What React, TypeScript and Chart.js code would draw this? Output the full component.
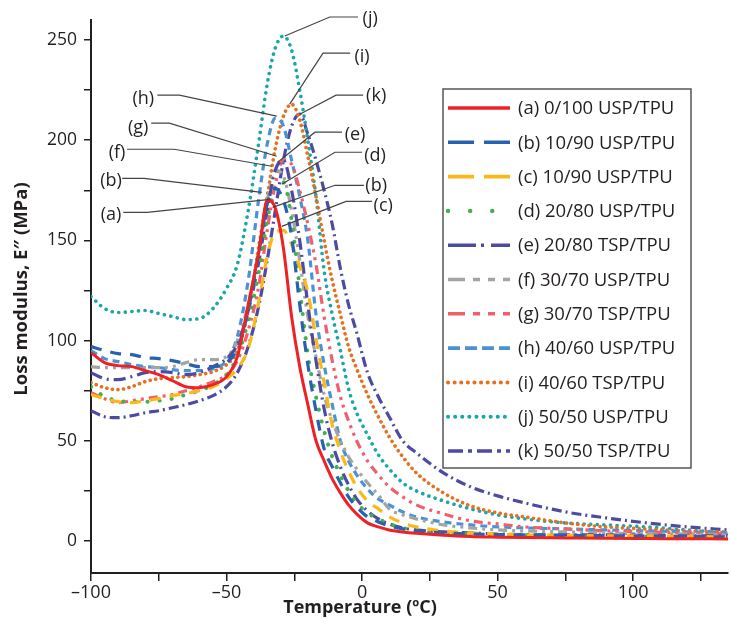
import React, { useEffect, useRef } from 'react';
import { Chart, registerables } from 'chart.js';
Chart.register(...registerables);

// Temperature grid (°C)
const temps = [-100, -95, -90, -85, -80, -75, -70, -65, -60, -55, -50, -46, -42, -38, -35, -32, -29, -26, -23, -20, -17, -14, -11, -8, -5, -2, 2, 6, 10, 15, 20, 30, 40, 50, 60, 75, 90, 105, 120, 135];

// Loss modulus E'' (MPa) for each blend
const serA = [94, 89, 87.5, 87, 85, 83, 80, 77, 76.5, 78, 82, 92, 118, 145, 170, 166, 146, 112, 87, 68, 50, 40, 31, 24, 18, 13.5, 9, 7, 5.5, 4.5, 3.8, 2.8, 2.2, 1.9, 1.7, 1.5, 1.3, 1.2, 1.1, 1];
const serB = [97, 95, 93.5, 93, 91.5, 91, 90, 88.5, 87, 87, 89, 96, 115, 145, 168, 176, 170, 152, 118, 88, 65, 46, 37, 29, 22, 17, 12, 9.5, 7.5, 6, 5, 4, 3.5, 3.2, 3, 2.8, 2.6, 2.4, 2.2, 2];
const serC = [73, 71, 69.5, 69, 70, 71, 72.5, 73.5, 75, 77, 81, 86, 96, 120, 142, 154, 155, 148, 137, 124, 101, 79, 58, 45, 35, 27, 20, 16, 12, 9, 7, 5, 4, 3.5, 3, 2.8, 2.5, 2.5, 2.3, 2];
const serD = [77, 72, 70, 69.5, 69.5, 70, 71, 73, 75, 78, 83, 92, 110, 135, 160, 176, 179, 160, 126, 93, 72, 55, 42, 33, 25, 19, 14, 11, 8.5, 6.5, 5, 4, 3.5, 3, 2.8, 2.5, 2.3, 2.2, 2, 2];
const serE = [84, 81, 80.5, 82, 84, 84.5, 84, 83, 84, 87, 91, 98, 115, 140, 165, 185, 190, 175, 150, 118, 90, 66, 49, 37, 28, 21, 15, 11, 8.5, 6.5, 5.5, 4.5, 4, 3.5, 3.2, 3, 3, 2.8, 2.5, 2.5];
const serF = [87, 86.5, 86.5, 86.5, 86.5, 86.5, 87, 89, 90.5, 90.5, 92, 100, 118, 145, 170, 185, 182, 165, 140, 112, 92, 73, 60, 50, 42, 36, 29, 23, 16, 13, 11, 8, 6.5, 5.5, 5, 4.5, 4, 3.5, 3.5, 3];
const serG = [74, 71, 69, 70, 71, 72, 73, 75, 77, 79.5, 83, 90, 105, 128, 155, 178, 190, 188, 175, 158, 138, 112, 90, 72, 60, 50, 40, 33, 27, 22, 18, 13.5, 10, 8.5, 7, 6, 5, 4.5, 4, 3.5];
const serH = [95, 91, 89.5, 88, 87, 86.5, 85.5, 85, 85, 86, 90, 102, 130, 172, 198, 211, 207, 190, 172, 150, 113, 88, 68, 50, 40, 33, 26, 21, 18, 14.5, 12, 9.5, 8, 7, 6.5, 6, 5.5, 5, 4.5, 4];
const serI = [79, 76.5, 75.5, 77, 79.5, 81, 81.5, 82, 83, 84.5, 88, 95, 115, 148, 172, 196, 212, 218, 210, 192, 172, 150, 130, 113, 97, 86, 73, 62, 52, 42, 34, 24, 17.5, 14, 12, 9, 7, 6, 5, 4.5];
const serJ = [122, 116, 114, 114.5, 115, 113.5, 112, 110.5, 111, 116, 126, 138, 165, 200, 228, 246, 252, 245, 225, 200, 172, 135, 113, 95, 76, 64, 53, 43, 36, 29, 25, 20, 16, 13, 11, 9, 8, 7, 5.5, 4];
const serK = [65, 62, 61.5, 62.5, 64, 65, 66.5, 68, 70, 72.5, 77, 84, 97, 118, 140, 165, 190, 207, 213, 203, 190, 175, 158, 136, 118, 104, 84, 72, 62, 50, 44, 34, 27, 22.5, 19, 14.5, 11.5, 9, 7, 5.5];

const seriesValues = [serA, serB, serC, serD, serE, serF, serG, serH, serI, serJ, serK];
const seriesLabels = [
  '(a) 0/100 USP/TPU',
  '(b) 10/90 USP/TPU',
  '(c) 10/90 USP/TPU',
  '(d) 20/80 USP/TPU',
  '(e) 20/80 TSP/TPU',
  '(f) 30/70 USP/TPU',
  '(g) 30/70 TSP/TPU',
  '(h) 40/60 USP/TPU',
  '(i) 40/60 TSP/TPU',
  '(j) 50/50 USP/TPU',
  '(k) 50/50 TSP/TPU',
];

const xTickValues = [-100, -75, -50, -25, 0, 25, 50, 75, 100, 125];
const yTickValues = [0, 25, 50, 75, 100, 125, 150, 175, 200, 225, 250];

const xTitle = 'Temperature (ºC)';
const yTitle = 'Loss modulus, E\u2033 (MPa)';

// Annotation callouts (data coordinates): label, text position, leader start, elbow, target
const calloutLabels = ['(j)', '(i)', '(k)', '(h)', '(g)', '(f)', '(b)', '(a)', '(e)', '(d)', '(b)', '(c)'];
const calloutText = [[3, 260.5], [0, 241.5], [5.2, 222], [-80.7, 220.5], [-82.6, 206], [-90.4, 193.5], [-92.6, 179.5], [-92.6, 162.5], [-2.6, 202.5], [4.8, 192], [5.2, 177], [7.8, 167]];
const calloutStart = [[-1.5, 261.5], [-4.4, 243.5], [0.4, 222.5], [-75.5, 222.5], [-77.8, 208.5], [-86.7, 195.5], [-88.5, 181], [-88.1, 164], [-7.4, 204], [0, 194], [0.7, 177.5], [3.7, 169.5]];
const calloutElbow = [[-11.9, 261.5], [-14.4, 243.5], [-9.6, 222.5], [-67.4, 222.5], [-71.1, 208.5], [-69.3, 195.5], [-80.4, 181], [-79.3, 164], [-17.4, 204], [-10, 194], [-10, 177.5], [-5.9, 169.5]];
const calloutTarget = [[-28.5, 252], [-26.7, 218], [-23, 213], [-31.5, 212], [-31.5, 192], [-33.3, 187], [-37, 174], [-34, 170.5], [-31.1, 189], [-29.6, 178], [-33, 166.5], [-29.6, 157]];

const FONT = '"Open Sans", "Noto Sans", sans-serif';
const INK = '#231f20';

const styles = [
  { color: '#ec2227', dash: [] as number[], legendDash: [] as number[], width: 3, cap: 'butt' },
  { color: '#2762b0', dash: [11, 9], legendDash: [26, 10], width: 3.2, cap: 'butt' },
  { color: '#fbb817', dash: [11, 9], legendDash: [26, 10], width: 3.2, cap: 'butt' },
  { color: '#40b14f', dash: [0.1, 12], legendDash: [0.1, 22], width: 4, cap: 'round' },
  { color: '#4c4aa2', dash: [12, 5, 2, 5], legendDash: [28, 5, 3, 7], width: 3.2, cap: 'butt' },
  { color: '#a4a4a4', dash: [9, 5, 3, 5, 3, 5], legendDash: [17, 8, 7, 8, 7, 8], width: 3.2, cap: 'butt' },
  { color: '#f05f6b', dash: [9, 5, 3, 5, 3, 5], legendDash: [17, 8, 7, 8, 7, 8], width: 3.2, cap: 'butt' },
  { color: '#4a92d6', dash: [7, 5], legendDash: [12, 5], width: 3.2, cap: 'butt' },
  { color: '#e5701f', dash: [0.1, 5.5], legendDash: [0.1, 6.5], width: 3.6, cap: 'round' },
  { color: '#19a7a9', dash: [0.1, 6.5], legendDash: [0.1, 7], width: 3.6, cap: 'round' },
  { color: '#4c4aa2', dash: [10, 4, 2, 4], legendDash: [15, 5, 4, 5], width: 3.2, cap: 'butt' },
];

const calloutPlugin = {
  id: 'callouts',
  afterDatasetsDraw(chart: any) {
    const { ctx } = chart;
    const xs = chart.scales.x;
    const ys = chart.scales.y;
    ctx.save();
    ctx.strokeStyle = '#444444';
    ctx.lineWidth = 1.2;
    ctx.setLineDash([]);
    for (let i = 0; i < calloutLabels.length; i++) {
      ctx.beginPath();
      ctx.moveTo(xs.getPixelForValue(calloutStart[i][0]), ys.getPixelForValue(calloutStart[i][1]));
      ctx.lineTo(xs.getPixelForValue(calloutElbow[i][0]), ys.getPixelForValue(calloutElbow[i][1]));
      ctx.lineTo(xs.getPixelForValue(calloutTarget[i][0]), ys.getPixelForValue(calloutTarget[i][1]));
      ctx.stroke();
    }
    ctx.fillStyle = INK;
    ctx.font = `18px ${FONT}`;
    ctx.textAlign = 'center';
    ctx.textBaseline = 'middle';
    for (let i = 0; i < calloutLabels.length; i++) {
      ctx.fillText(calloutLabels[i], xs.getPixelForValue(calloutText[i][0]), ys.getPixelForValue(calloutText[i][1]));
    }
    ctx.restore();
  },
};

const legendPlugin = {
  id: 'boxLegend',
  afterDraw(chart: any) {
    const { ctx } = chart;
    const left = 443, top = 89, right = 691, bottom = 468;
    ctx.save();
    ctx.fillStyle = '#ffffff';
    ctx.fillRect(left, top, right - left, bottom - top);
    ctx.strokeStyle = '#555555';
    ctx.lineWidth = 1.5;
    ctx.setLineDash([]);
    ctx.strokeRect(left, top, right - left, bottom - top);
    const step = (451 - 108) / (seriesLabels.length - 1);
    ctx.font = `18.5px ${FONT}`;
    ctx.textAlign = 'left';
    ctx.textBaseline = 'middle';
    for (let i = 0; i < seriesLabels.length; i++) {
      const y = 108 + i * step;
      const st = styles[i];
      ctx.beginPath();
      ctx.strokeStyle = st.color;
      ctx.lineWidth = st.width + 0.4;
      ctx.lineCap = st.cap;
      ctx.setLineDash(st.legendDash);
      ctx.moveTo(448, y);
      ctx.lineTo(510, y);
      ctx.stroke();
      ctx.setLineDash([]);
      ctx.fillStyle = INK;
      ctx.fillText(seriesLabels[i], 518, y + 1);
    }
    // axis titles
    ctx.font = `bold 18px ${FONT}`;
    ctx.textAlign = 'center';
    ctx.textBaseline = 'middle';
    ctx.fillText(xTitle, 360, 608);
    ctx.translate(21.5, 289);
    ctx.rotate(-Math.PI / 2);
    ctx.font = `bold 18.5px ${FONT}`;
    ctx.fillText(yTitle, 0, 0);
    ctx.restore();
  },
};

const fmtX = (v: number) => (v < 0 ? '\u2013' + Math.abs(v) : String(v));

export default function App() {
  const ref = useRef<HTMLCanvasElement>(null);
  useEffect(() => {
    const datasets = seriesValues.map((vals, i) => ({
      label: seriesLabels[i],
      data: temps.map((t, j) => ({ x: t, y: vals[j] })),
      borderColor: styles[i].color,
      backgroundColor: styles[i].color,
      borderWidth: styles[i].width,
      borderDash: styles[i].dash,
      borderCapStyle: styles[i].cap,
      pointRadius: 0,
      fill: false,
      cubicInterpolationMode: 'monotone' as const,
    }));
    const chart = new Chart(ref.current as HTMLCanvasElement, {
      type: 'line',
      data: { datasets },
      options: {
        responsive: false,
        animation: false,
        layout: { padding: { left: 0, right: 3, top: 20, bottom: 0 } },
        scales: {
          x: {
            type: 'linear',
            min: -100,
            max: 135,
            afterBuildTicks: (s: any) => {
              s.ticks = xTickValues.map((v) => ({ value: v }));
            },
            afterFit: (s: any) => {
              s.height = 45;
            },
            grid: { drawOnChartArea: false, drawTicks: true, tickLength: 8, color: INK, lineWidth: 1.5 },
            border: { display: true, color: INK, width: 2 },
            ticks: {
              autoSkip: false,
              maxRotation: 0,
              padding: 1,
              color: INK,
              font: { family: FONT, size: 18 },
              callback: (v: any) => (Number(v) % 50 === 0 ? fmtX(Number(v)) : ''),
            },
            title: { display: false },
          },
          y: {
            type: 'linear',
            min: -16,
            max: 260,
            afterBuildTicks: (s: any) => {
              s.ticks = yTickValues.map((v) => ({ value: v }));
            },
            afterFit: (s: any) => {
              s.width = 91;
            },
            grid: { drawOnChartArea: false, drawTicks: true, tickLength: 7, color: INK, lineWidth: 1.5 },
            border: { display: true, color: INK, width: 2 },
            ticks: {
              autoSkip: false,
              padding: 7,
              color: INK,
              font: { family: FONT, size: 17.5 },
              callback: (v: any) => (Number(v) % 50 === 0 ? String(v) : ''),
            },
            title: { display: false },
          },
        },
        plugins: {
          legend: { display: false },
          tooltip: { enabled: false },
        },
      },
      plugins: [calloutPlugin, legendPlugin],
    });
    return () => chart.destroy();
  }, []);
  return (
    <div style={{ position: 'fixed', left: 0, top: 0, width: 731, height: 618, background: '#ffffff' }}>
      <canvas ref={ref} width={731} height={618} style={{ display: 'block' }} />
    </div>
  );
}
